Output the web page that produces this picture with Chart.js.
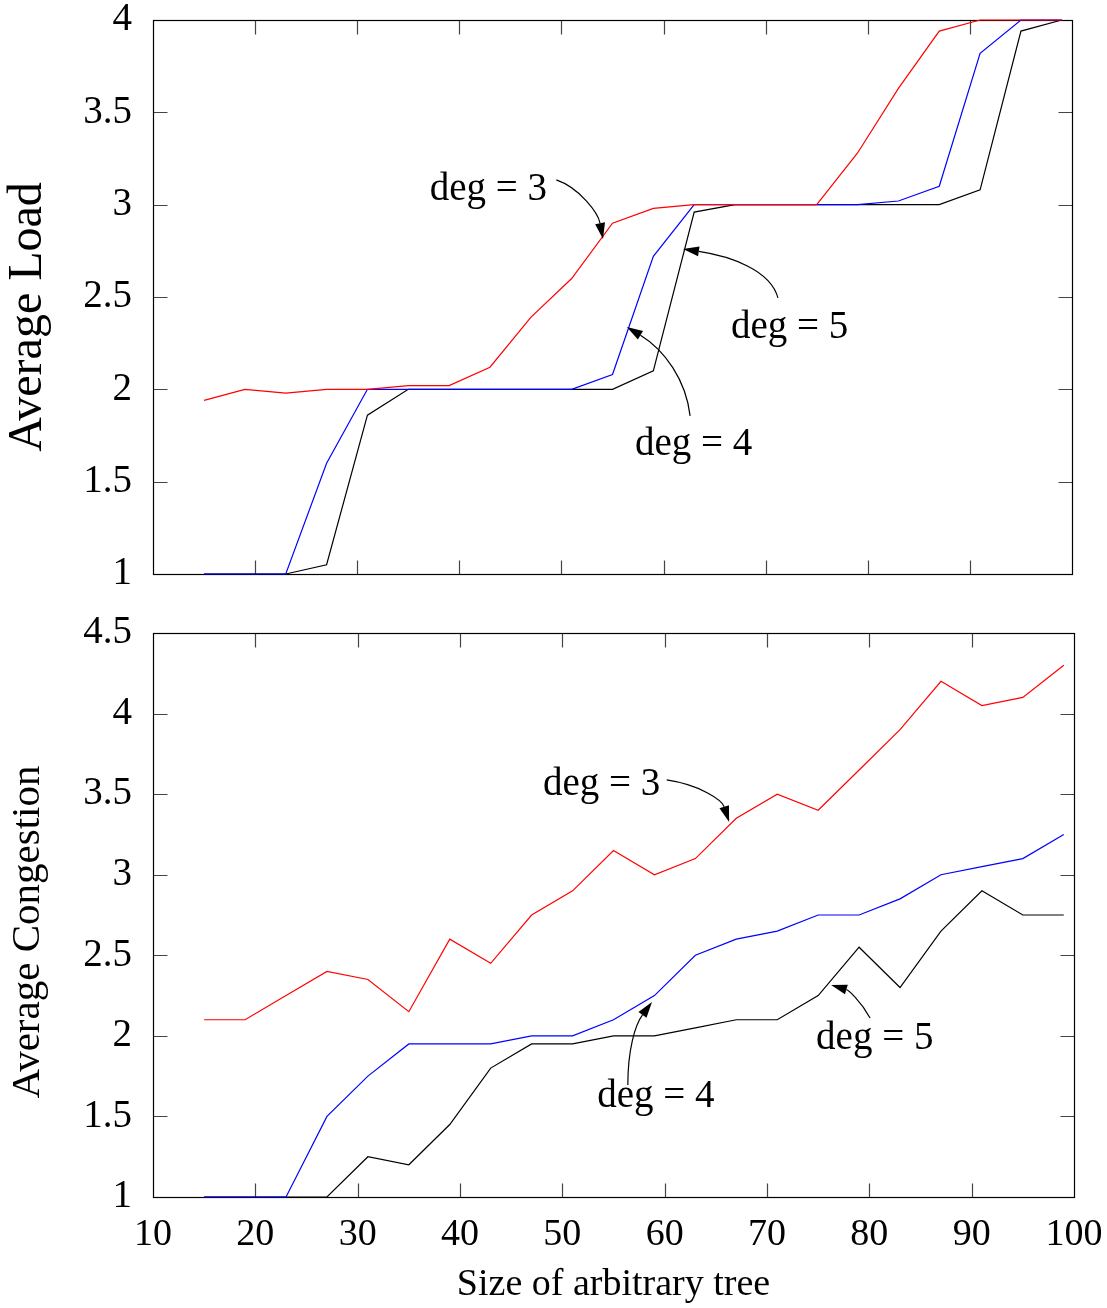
<!DOCTYPE html>
<html>
<head>
<meta charset="utf-8">
<script src="https://cdn.jsdelivr.net/npm/chart.js@4.4.0/dist/chart.umd.min.js"></script>
<style>
  html, body { margin: 0; padding: 0; background: #fff; }
  #wrap { position: relative; width: 1107px; height: 1308px; }
  canvas { position: absolute; left: 0; }
  #loadChart { top: 0; }
  #congChart { top: 600px; }
</style>
</head>
<body>
<div id="wrap">
  <canvas id="loadChart" width="1107" height="600"></canvas>
  <canvas id="congChart" width="1107" height="708"></canvas>
</div>
<script>
// tree sizes (x values shared by every series)
const sizes = [15, 19, 23, 27, 31, 35, 39, 43, 47, 51, 55, 59, 63, 67, 71, 75, 79, 83, 87, 91, 95, 99];

// average load
const loadDeg3 = [1.94, 2.0, 1.98, 2.0, 2.0, 2.02, 2.02, 2.12, 2.39, 2.60, 2.90, 2.98, 3.0, 3.0, 3.0, 3.0, 3.28, 3.63, 3.94, 4.0, 4.0, 4.0];
const loadDeg4 = [1, 1, 1, 1.60, 2, 2, 2, 2, 2, 2, 2.08, 2.72, 3, 3, 3, 3, 3, 3.02, 3.10, 3.82, 4, 4];
const loadDeg5 = [1, 1, 1, 1.05, 1.86, 2, 2, 2, 2, 2, 2, 2.10, 2.96, 3, 3, 3, 3, 3, 3, 3.08, 3.94, 4];

// average congestion
const congDeg3 = [2.10, 2.10, 2.25, 2.40, 2.35, 2.15, 2.60, 2.45, 2.75, 2.90, 3.15, 3.0, 3.10, 3.35, 3.50, 3.40, 3.65, 3.90, 4.20, 4.05, 4.10, 4.30];
const congDeg4 = [1, 1, 1, 1.5, 1.75, 1.95, 1.95, 1.95, 2.0, 2.0, 2.10, 2.25, 2.5, 2.6, 2.65, 2.75, 2.75, 2.85, 3.0, 3.05, 3.10, 3.25];
const congDeg5 = [1, 1, 1, 1, 1.25, 1.20, 1.45, 1.80, 1.95, 1.95, 2.0, 2.0, 2.05, 2.10, 2.10, 2.25, 2.55, 2.30, 2.65, 2.90, 2.75, 2.75];

// axis ticks
const xTicks = [10, 20, 30, 40, 50, 60, 70, 80, 90, 100];
const loadTicks = [1, 1.5, 2, 2.5, 3, 3.5, 4];
const congTicks = [1, 1.5, 2, 2.5, 3, 3.5, 4, 4.5];

// "deg = n" labels with curved arrows, in data coordinates
// arrow = [start, control1, control2, tip]
const loadNotes = [
  { text: 'deg = 3', x: 37.1, y: 3.025, arrow: [[49.5, 3.134], [51.8, 3.09], [53.6, 2.954], [54.07, 2.814]] },
  { text: 'deg = 5', x: 66.6, y: 2.278, arrow: [[71.2, 2.495], [70.5, 2.646], [66.5, 2.722], [61.9, 2.76]] },
  { text: 'deg = 4', x: 57.2, y: 1.644, arrow: [[62.6, 1.856], [62.2, 2.05], [60.1, 2.213], [56.4, 2.338]] }
];
const congNotes = [
  { text: 'deg = 3', x: 48.1, y: 3.495, arrow: [[60.2, 3.588], [63.45, 3.557], [65.6, 3.464], [66.3, 3.327]] },
  { text: 'deg = 4', x: 53.4, y: 1.559, arrow: [[56.4, 1.695], [56.4, 1.912], [57.1, 2.067], [58.76, 2.21]] },
  { text: 'deg = 5', x: 74.8, y: 1.918, arrow: [[80.07, 2.111], [79.1, 2.223], [77.9, 2.285], [76.26, 2.316]] }
];

const FONT = '"Liberation Serif", "Times New Roman", serif';

function pts(vals) {
  return sizes.map((s, i) => ({ x: s, y: vals[i] }));
}

function line(vals, color) {
  return {
    data: pts(vals),
    borderColor: color,
    borderWidth: 1.2,
    pointRadius: 0,
    tension: 0,
    fill: false,
    clip: false
  };
}

// box around the plot with inward tick marks on all four sides
const framePlugin = {
  id: 'frame',
  beforeDatasetsDraw(chart, args, opts) {
    const { ctx, chartArea: a, scales: { x, y } } = chart;
    const L = Math.round(a.left) + 0.5, R = Math.round(a.right) + 0.5;
    const T = Math.round(a.top) + 0.5, B = Math.round(a.bottom) + 0.5;
    const len = 14;
    ctx.save();
    ctx.lineWidth = 1.2;
    ctx.strokeStyle = '#444';
    ctx.beginPath();
    xTicks.forEach(v => {
      if (v <= x.min || v >= x.max) return;
      const px = Math.round(x.getPixelForValue(v)) + 0.5;
      ctx.moveTo(px, B); ctx.lineTo(px, B - len);
      ctx.moveTo(px, T); ctx.lineTo(px, T + len);
    });
    opts.yTicks.forEach(v => {
      if (v <= y.min || v >= y.max) return;
      const py = Math.round(y.getPixelForValue(v)) + 0.5;
      ctx.moveTo(L, py); ctx.lineTo(L + len, py);
      ctx.moveTo(R, py); ctx.lineTo(R - len, py);
    });
    ctx.stroke();
    ctx.strokeStyle = '#000';
    ctx.strokeRect(L, T, R - L, B - T);
    ctx.restore();
  }
};

// curved-arrow labels and the rotated y title
const notePlugin = {
  id: 'notes',
  afterDatasetsDraw(chart, args, opts) {
    const { ctx, chartArea: a, scales: { x, y } } = chart;
    ctx.save();
    ctx.fillStyle = '#000';
    ctx.strokeStyle = '#000';
    ctx.lineWidth = 1.2;
    ctx.font = '39px ' + FONT;
    ctx.textAlign = 'left';
    ctx.textBaseline = 'alphabetic';
    opts.items.forEach(n => {
      ctx.fillText(n.text, x.getPixelForValue(n.x), y.getPixelForValue(n.y));
      const p = n.arrow.map(([vx, vy]) => [x.getPixelForValue(vx), y.getPixelForValue(vy)]);
      const ang = Math.atan2(p[3][1] - p[2][1], p[3][0] - p[2][0]);
      const hl = 16, hw = 5;
      const bx = p[3][0] - hl * Math.cos(ang), by = p[3][1] - hl * Math.sin(ang);
      ctx.beginPath();
      ctx.moveTo(p[0][0], p[0][1]);
      ctx.bezierCurveTo(p[1][0], p[1][1], p[2][0], p[2][1], bx, by);
      ctx.stroke();
      ctx.beginPath();
      ctx.moveTo(p[3][0], p[3][1]);
      ctx.lineTo(bx + hw * Math.sin(ang), by - hw * Math.cos(ang));
      ctx.lineTo(bx - hw * Math.sin(ang), by + hw * Math.cos(ang));
      ctx.closePath();
      ctx.fill();
    });
    // y axis title
    ctx.font = opts.titleSize + 'px ' + FONT;
    ctx.textAlign = 'center';
    ctx.textBaseline = 'middle';
    ctx.translate(28, (a.top + a.bottom) / 2 + opts.titleShift);
    ctx.rotate(-Math.PI / 2);
    ctx.fillText(opts.title, 0, 0);
    ctx.restore();
  }
};

function makeChart(id, series, yMin, yMax, yTicks, notes, title, titleSize, titleShift, withX) {
  return new Chart(document.getElementById(id), {
    type: 'line',
    data: {
      datasets: [
        line(series[0], '#ff0000'),
        line(series[1], '#0000ff'),
        line(series[2], '#000000')
      ]
    },
    options: {
      responsive: false,
      animation: false,
      events: [],
      layout: {
        padding: withX
          ? { top: 33, right: 33, bottom: 0, left: 0 }
          : { top: 20, right: 35, bottom: 26, left: 0 }
      },
      plugins: {
        legend: { display: false },
        tooltip: { enabled: false },
        frame: { yTicks: yTicks },
        notes: { items: notes, title: title, titleSize: titleSize, titleShift: titleShift }
      },
      scales: {
        x: {
          type: 'linear',
          min: 10,
          max: 100,
          display: withX,
          grid: { display: false, drawTicks: false },
          border: { display: false },
          ticks: {
            stepSize: 10,
            color: '#000',
            padding: 15,
            font: { family: FONT, size: 38 }
          },
          title: {
            display: true,
            text: 'Size of arbitrary tree',
            color: '#000',
            font: { family: FONT, size: 38, lineHeight: 1 },
            padding: { top: 0, bottom: 4 }
          },
          afterFit: s => {
            s.height = withX ? 111 : 0;
            s.paddingLeft = 0;
            s.paddingRight = 0;
          }
        },
        y: {
          type: 'linear',
          min: yMin,
          max: yMax,
          grid: { display: false, drawTicks: false },
          border: { display: false },
          ticks: {
            stepSize: 0.5,
            color: '#000',
            padding: 21,
            font: { family: FONT, size: 39 },
            callback: v => String(+v)
          },
          afterFit: s => {
            s.width = 153;
            s.paddingTop = 0;
            s.paddingBottom = 0;
          }
        }
      }
    },
    plugins: [framePlugin, notePlugin]
  });
}

makeChart('loadChart', [loadDeg3, loadDeg4, loadDeg5], 1, 4, loadTicks, loadNotes,
  'Average Load', 48, 20, false);
makeChart('congChart', [congDeg3, congDeg4, congDeg5], 1, 4.5, congTicks, congNotes,
  'Average Congestion', 41, 17, true);
</script>
</body>
</html>
